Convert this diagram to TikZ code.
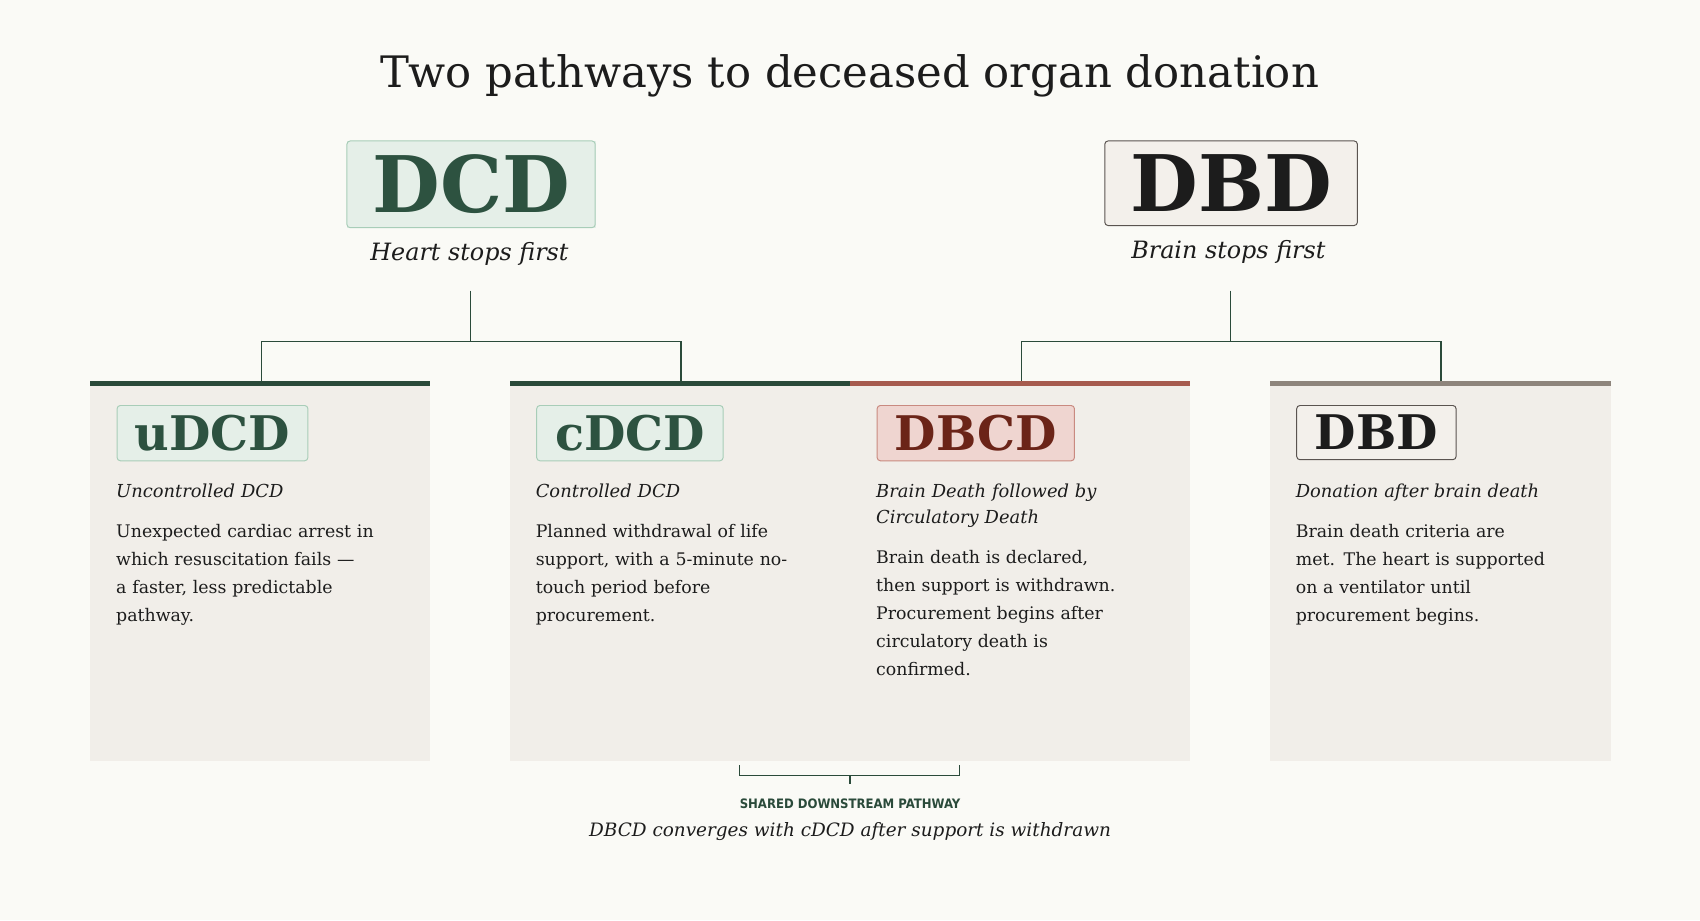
\documentclass[tikz,border=0pt]{standalone}
\usepackage{fontspec}
\setmainfont{DejaVu Serif}
\setsansfont{DejaVu Sans Condensed}
\definecolor{bg}{HTML}{FAFAF6}
\definecolor{card}{HTML}{F1EEE9}
\definecolor{dg}{HTML}{2D5240}
\definecolor{ln}{HTML}{2A4A3A}
\definecolor{gfill}{HTML}{E5EFE8}
\definecolor{gbord}{HTML}{A8CDB8}
\definecolor{rfill}{HTML}{EFD5D0}
\definecolor{rbord}{HTML}{C98A80}
\definecolor{rtext}{HTML}{6B2418}
\definecolor{rbar}{HTML}{A65B4E}
\definecolor{gray}{HTML}{8E857C}
\definecolor{nfill}{HTML}{F3F0EB}
\definecolor{nbord}{HTML}{5A5450}
\definecolor{ink}{HTML}{1C1C1C}
\begin{document}
\begin{tikzpicture}[x=1pt,y=-1pt,
 conn/.style={draw=ln,line width=1.3pt},
 badge/.style={rounded corners=3pt,line width=0.9pt,inner sep=0pt,font=\fontsize{44}{48}\selectfont\bfseries},
 sub/.style={anchor=north west,align=left,text width=250pt,inner sep=0pt,font=\fontsize{16.5}{24}\selectfont\itshape,text=ink},
 body/.style={anchor=north west,align=left,text width=265pt,inner sep=0pt,font=\fontsize{16}{26}\selectfont,text=ink}]
\fill[bg] (0,0) rectangle (1568,849);
\node[font=\fontsize{40}{44}\selectfont,text=ink] (title) at (784,70) {Two pathways to deceased organ donation};
% top boxes
\draw[gfill,fill=gfill] (320,130) rectangle (549,210);
\node[badge,draw=gbord,fill=gfill,minimum width=229pt,minimum height=80pt,text=dg,font=\fontsize{72}{76}\selectfont\bfseries] (dcd) at (434.5,170) {DCD};
\node[badge,draw=nbord,fill=nfill,minimum width=233pt,minimum height=78pt,text=ink,font=\fontsize{72}{76}\selectfont\bfseries] (dbd) at (1135.5,169) {DBD};
\node[font=\fontsize{22}{26}\selectfont\itshape,text=ink] (hs) at (433,234) {Heart stops first};
\node[font=\fontsize{22}{26}\selectfont\itshape,text=ink] (bs) at (1133,232) {Brain stops first};
% cards
\fill[card] (83,351) rectangle (397,702);
\fill[card] (470,351) rectangle (1098,702);
\fill[card] (1171,351) rectangle (1486,702);
\fill[ln] (83,351) rectangle (397,356);
\fill[ln] (470,351) rectangle (784,356);
\fill[rbar] (784,351) rectangle (1098,356);
\fill[gray] (1171,351) rectangle (1486,356);
\coordinate (u) at (241,351); \coordinate (c) at (628,351);
\coordinate (b) at (942,351); \coordinate (d) at (1329,351);
\coordinate (l0) at (434,268); \coordinate (r0) at (1135,268);
\draw[conn] (l0) -- (434,315) -| (u); \draw[conn] (434,315) -| (c);
\draw[conn] (r0) -- (1135,315) -| (b); \draw[conn] (1135,315) -| (d);
% badges
\node[badge,draw=gbord,fill=gfill,minimum width=176pt,minimum height=51pt,text=dg] (ub) at (196,399.5) {uDCD};
\node[badge,draw=gbord,fill=gfill,minimum width=172pt,minimum height=51pt,text=dg] (cb) at (581,399.5) {cDCD};
\node[badge,draw=rbord,fill=rfill,minimum width=182pt,minimum height=51pt,text=rtext] (bb) at (900,399.5) {DBCD};
\node[badge,draw=nbord,fill=nfill,minimum width=147pt,minimum height=50pt,text=ink] (db) at (1269.5,399) {DBD};
% texts
\node[sub] (s1) at (107,446) {Uncontrolled DCD};
\node[body] (t1) at (107,483) {Unexpected cardiac arrest in\\which resuscitation fails ---\\a faster, less predictable\\pathway.};
\node[sub] (s2) at (494,446) {Controlled DCD};
\node[body] (t2) at (494,483) {Planned withdrawal of life\\support, with a 5-minute no-\\touch period before\\procurement.};
\node[sub] (s3) at (808,446) {Brain Death followed by\\Circulatory Death};
\node[body] (t3) at (808,507) {Brain death is declared,\\then support is withdrawn.\\Procurement begins after\\circulatory death is\\confirmed.};
\node[sub] (s4) at (1195,446) {Donation after brain death};
\node[body] (t4) at (1195,483) {Brain death criteria are\\met. The heart is supported\\on a ventilator until\\procurement begins.};
% bracket
\coordinate (k1) at (682,706); \coordinate (k2) at (885,706); \coordinate (km) at (784,723);
\draw[conn,line width=1.1pt] (k1) -- (682,715) -- (885,715) -- (k2);
\draw[conn,line width=1.1pt] (784,715) -- (km);
\node[font=\sffamily\bfseries\fontsize{12}{14}\selectfont,text=ln] (sh) at (784,741) {SHARED DOWNSTREAM PATHWAY};
\node[font=\fontsize{17}{20}\selectfont\itshape,text=ink] (cv) at (784,767) {DBCD converges with cDCD after support is withdrawn};
\end{tikzpicture}
\end{document}
